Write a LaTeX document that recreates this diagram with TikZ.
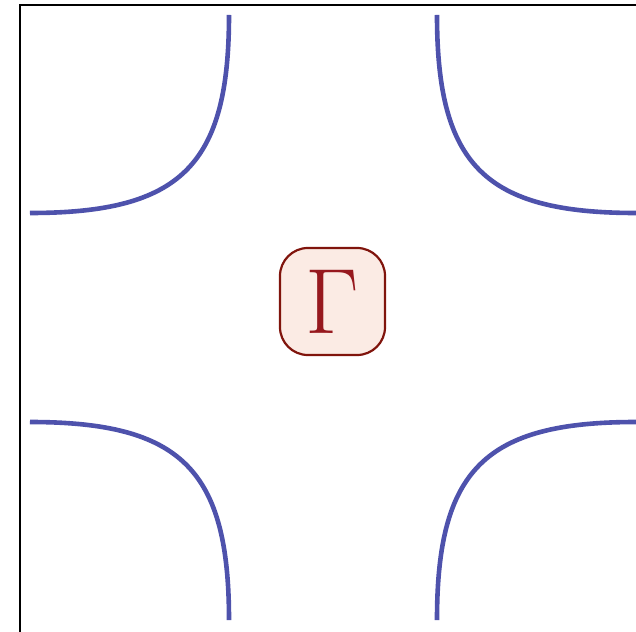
\documentclass[tikz,border=0pt]{standalone}
\usepackage{fontspec}
\usepackage{tikz}
\usetikzlibrary{calc}

\definecolor{bandblue}{RGB}{78,82,172}
\definecolor{gammaline}{RGB}{128,20,12}
\definecolor{gammafill}{RGB}{251,235,228}
\definecolor{gammatext}{RGB}{150,24,30}

\begin{document}
\begin{tikzpicture}
   [x=0.025cm,y=0.025cm,
   every node/.style={inner sep=0pt},
   fermi/.style={draw=bandblue,line width=0.115cm},
   gammabox/.style={draw=gammaline,fill=gammafill,line width=0.055cm,
     rounded corners=0.7cm,minimum width=2.625cm,minimum height=2.675cm,
     text=gammatext,font=\fontsize{66}{70}\selectfont}]

   \useasboundingbox (-333,-313.5) rectangle (303,317.5);
   \clip (-333,-313.5) rectangle (303,317.5);

   % frame
   \draw[line width=0.05cm] (-313,-340) -- (-313,312.5) -- (340,312.5);

   % pockets round the corners
   \draw[fermi] (-104,302.5) .. controls (-104,152) and (-152,104.5) .. (-303,104.5);
   \draw[fermi] (104,302.5) .. controls (104,152) and (152,104.5) .. (303,104.5);
   \draw[fermi] (-104,-302.5) .. controls (-104,-152) and (-152,-104.5) .. (-303,-104.5);
   \draw[fermi] (104,-302.5) .. controls (104,-152) and (152,-104.5) .. (303,-104.5);

   % zone centre
   \node[gammabox] (G) at (-0.5,16) {Γ};
\end{tikzpicture}
\end{document}
